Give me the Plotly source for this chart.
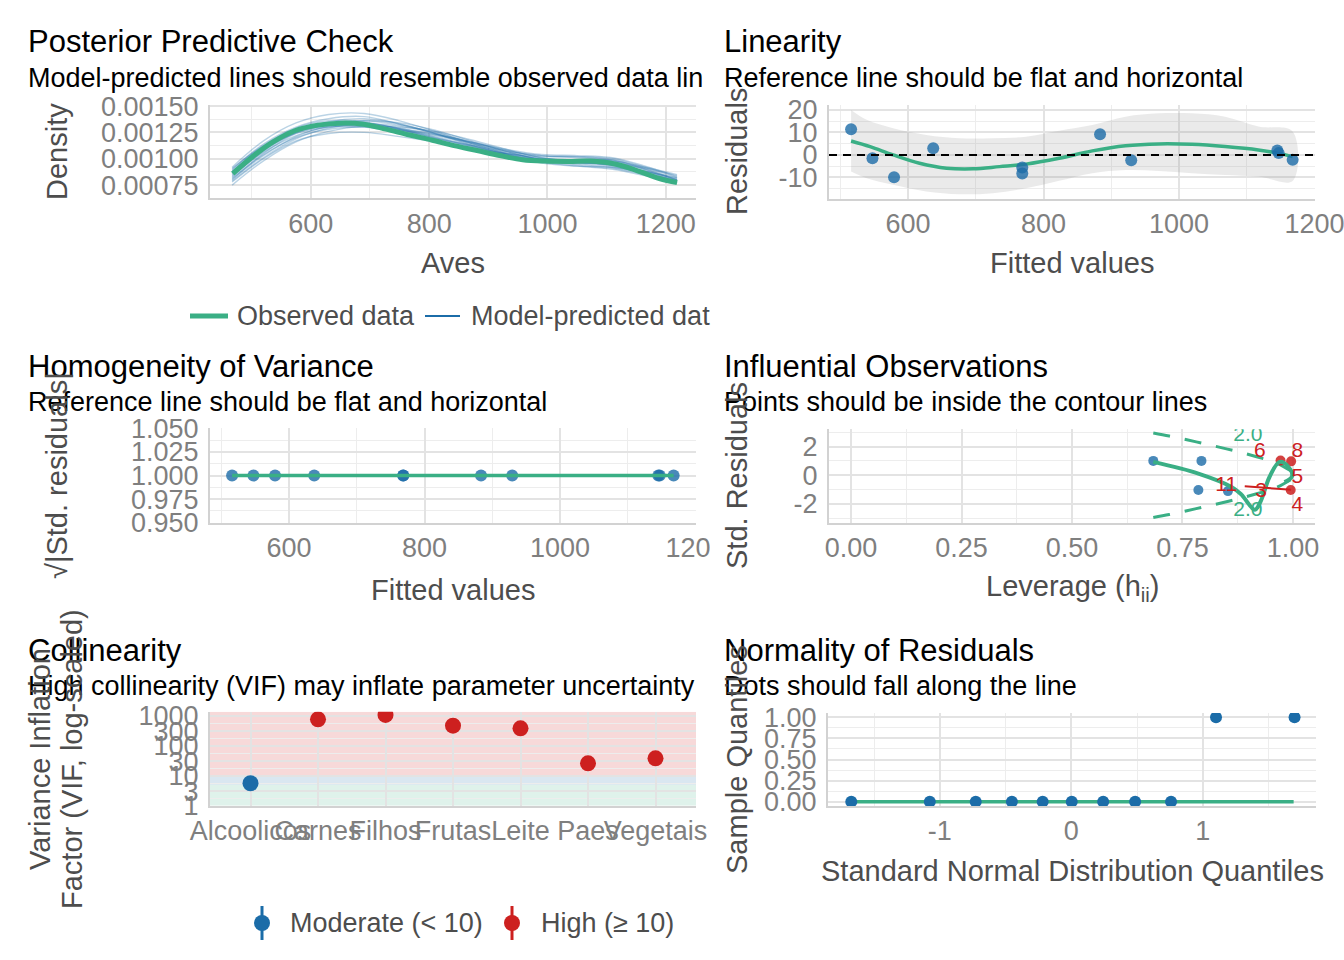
import plotly.graph_objects as go

W, H = 1344, 960
def fx(p): return p / W
def fy(p): return 1 - p / H

GREEN = "#3aaf85"; BLUE = "#1b6ca8"; RED = "#cd201f"
FONT = "Liberation Sans"
TICKCOL = "#7f7f7f"; AXTITLE = "#4d4d4d"
GRIDMAJ = "#e3e3e3"; GRIDMIN = "#ededed"; AXLINE = "#d2d2d2"

# ---------------- data ----------------
# Posterior predictive check (Aves)
ppc_obs_x = [468, 504, 535, 573, 612, 650, 689, 727, 765, 804, 842, 881, 919, 958, 996, 1035, 1073, 1112, 1150, 1189, 1219]
ppc_obs_y = [0.000859, 0.001031, 0.001156, 0.001266, 0.001319, 0.001338, 0.001328, 0.001281, 0.001228, 0.001178,
             0.001125, 0.001078, 0.001031, 0.000991, 0.000978, 0.000975, 0.000978, 0.000953, 0.000891, 0.000813, 0.000775]
ppc_rep_x = [467, 520, 575, 630, 690, 750, 810, 870, 930, 990, 1050, 1110, 1165, 1219]
ppc_rep_1 = [0.00080, 0.00105, 0.00124, 0.00132, 0.00134, 0.00128, 0.00120, 0.00112, 0.00105, 0.00100, 0.00099, 0.00097, 0.00089, 0.00077]
ppc_rep_2 = [0.00090, 0.00114, 0.00130, 0.00138, 0.00140, 0.00133, 0.00124, 0.00113, 0.00104, 0.00098, 0.00096, 0.00094, 0.00088, 0.00080]
ppc_rep_3 = [0.00078, 0.00100, 0.00117, 0.00124, 0.00125, 0.00121, 0.00116, 0.00110, 0.00105, 0.00102, 0.00102, 0.00100, 0.00092, 0.00082]
ppc_rep_4 = [0.00085, 0.00108, 0.00125, 0.00133, 0.00136, 0.00132, 0.00125, 0.00116, 0.00107, 0.00099, 0.00095, 0.00092, 0.00086, 0.00079]
ppc_rep_5 = [0.00088, 0.00112, 0.00129, 0.00136, 0.00135, 0.00128, 0.00119, 0.00111, 0.00103, 0.00097, 0.00096, 0.00096, 0.00091, 0.00084]
ppc_rep_6 = [0.00082, 0.00104, 0.00120, 0.00128, 0.00130, 0.00127, 0.00122, 0.00115, 0.00108, 0.00103, 0.00101, 0.00098, 0.00090, 0.00080]
ppc_rep_7 = [0.00075, 0.00098, 0.00116, 0.00126, 0.00131, 0.00130, 0.00126, 0.00118, 0.00109, 0.00101, 0.00097, 0.00094, 0.00088, 0.00081]
ppc_rep_8 = [0.00092, 0.00117, 0.00134, 0.00142, 0.00143, 0.00136, 0.00126, 0.00115, 0.00105, 0.00097, 0.00093, 0.00090, 0.00084, 0.00077]
ppc_rep_9 = [0.00084, 0.00106, 0.00122, 0.00130, 0.00132, 0.00129, 0.00123, 0.00116, 0.00109, 0.00104, 0.00103, 0.00101, 0.00093, 0.00083]
ppc_rep_10 = [0.00087, 0.00110, 0.00126, 0.00133, 0.00134, 0.00129, 0.00121, 0.00113, 0.00105, 0.00099, 0.00097, 0.00094, 0.00087, 0.00079]
ppc_rep_11 = [0.00079, 0.00101, 0.00119, 0.00129, 0.00133, 0.00131, 0.00124, 0.00115, 0.00106, 0.00100, 0.00099, 0.00098, 0.00092, 0.00085]
ppc_rep_12 = [0.00089, 0.00113, 0.00128, 0.00134, 0.00133, 0.00127, 0.00120, 0.00112, 0.00104, 0.00099, 0.00099, 0.00099, 0.00091, 0.00080]
ppc_rep_13 = [0.00081, 0.00103, 0.00121, 0.00131, 0.00136, 0.00134, 0.00127, 0.00117, 0.00107, 0.00099, 0.00094, 0.00091, 0.00085, 0.00078]
ppc_rep_14 = [0.00086, 0.00109, 0.00124, 0.00130, 0.00130, 0.00125, 0.00119, 0.00113, 0.00107, 0.00103, 0.00102, 0.00099, 0.00090, 0.00079]
ppc_rep_15 = [0.00083, 0.00107, 0.00125, 0.00135, 0.00138, 0.00133, 0.00124, 0.00114, 0.00104, 0.00096, 0.00093, 0.00092, 0.00088, 0.00082]
ppc_rep_16 = [0.00091, 0.00112, 0.00126, 0.00131, 0.00131, 0.00128, 0.00123, 0.00116, 0.00108, 0.00101, 0.00097, 0.00093, 0.00086, 0.00078]
ppc_reps = [ppc_rep_1, ppc_rep_2, ppc_rep_3, ppc_rep_4, ppc_rep_5, ppc_rep_6, ppc_rep_7, ppc_rep_8,
            ppc_rep_9, ppc_rep_10, ppc_rep_11, ppc_rep_12, ppc_rep_13, ppc_rep_14, ppc_rep_15, ppc_rep_16]

# Linearity
fitted = [516, 547.5, 579.4, 637.2, 768.6, 768.6, 883.4, 929.4, 1145, 1147, 1167.6]
residuals = [11.4, -1.5, -9.9, 3.0, -5.6, -8.3, 9.2, -2.4, 2.0, 0.8, -2.2]
lin_smooth_x = [516, 544, 578, 617, 657, 696, 735, 774, 823, 872, 921, 970, 1019, 1068, 1117, 1147, 1167.6]
lin_smooth_y = [6.2, 3.7, 0.0, -3.7, -5.9, -6.2, -5.2, -4.1, -1.5, 1.8, 4.1, 4.9, 4.7, 3.7, 2.2, 0.7, -0.7]
lin_band_x = [516, 539, 578, 627, 676, 725, 774, 823, 872, 921, 970, 1019, 1068, 1117, 1167.6]
lin_band_hi = [20.0, 15.6, 11.9, 8.9, 7.4, 7.4, 8.1, 10.8, 13.3, 17.0, 18.5, 18.5, 17.0, 12.6, 10.4]
lin_band_lo = [-7.4, -10.4, -13.3, -16.3, -17.5, -17.0, -14.8, -11.5, -8.1, -6.7, -7.1, -8.1, -8.9, -9.6, -11.6]

# Homogeneity of variance
sqrt_abs_std_res = [1.0, 1.0, 1.0, 1.0, 1.0, 1.0, 1.0, 1.0, 1.0, 1.0, 1.0]
hom_smooth_x = [516, 1167.6]
hom_smooth_y = [1.0, 1.0]

# Influential observations
lev_ok = [0.684, 0.793, 0.786, 0.853]
res_ok = [1.0, 1.0, -1.02, -1.1]
lev_infl = [0.972, 0.996, 0.995]
res_infl = [1.02, 0.97, -1.02]
infl_labels = ["6", "8", "5", "4", "11", "3"]
infl_label_x = [0.925, 1.010, 1.010, 1.010, 0.849, 0.928]
infl_label_y = [1.63, 1.63, -0.16, -2.09, -0.70, -1.17]
infl_smooth_x = [0.684, 0.786, 0.861, 0.883, 0.914, 0.928, 0.947, 0.970, 0.990, 0.998, 0.981]
infl_smooth_y = [0.93, 0.12, -0.81, -1.33, -2.40, -1.74, -0.12, 0.93, 0.58, -0.07, -0.47]
cook_h = [0.684, 0.72, 0.76, 0.80, 0.84, 0.88, 0.92, 0.96, 0.995]
cook_hi = [2.94, 2.73, 2.47, 2.19, 1.91, 1.61, 1.27, 0.89, 0.31]
cook_lo = [-2.94, -2.73, -2.47, -2.19, -1.91, -1.61, -1.27, -0.89, -0.31]
cook_label_x = [0.898, 0.898]
cook_label_y = [2.74, -2.49]
seg3_x = [0.891, 0.996]
seg3_y = [-0.77, -1.0]

# Collinearity
vif_terms = ["Alcoolicos", "Carnes", "Filhos", "Frutas", "Leite", "Paes", "Vegetais"]
vif_values = [5.6, 764, 1070, 468, 382, 26, 38]
vif_group = ["Moderate", "High", "High", "High", "High", "High", "High"]

# Normality of residuals
qq_theoretical = [-1.673, -1.076, -0.727, -0.452, -0.218, 0.003, 0.242, 0.485, 0.758, 1.100, 1.697]
qq_sample = [0, 0, 0, 0, 0, 0, 0, 0, 0, 1, 1]
qq_line_x = [-1.69, 1.69]
qq_line_y = [0, 0]

# ---------------- figure ----------------
fig = go.Figure()

for i, rep in enumerate(ppc_reps):
    fig.add_trace(go.Scatter(x=ppc_rep_x, y=rep, mode="lines", line=dict(color="rgba(27,108,168,0.3)", width=1.4, shape="spline"),
                             xaxis="x", yaxis="y", showlegend=False, hoverinfo="skip"))
fig.add_trace(go.Scatter(x=ppc_obs_x, y=ppc_obs_y, mode="lines", line=dict(color=GREEN, width=5, shape="spline"),
                         xaxis="x", yaxis="y", showlegend=False, name="Observed data"))

# Linearity
fig.add_trace(go.Scatter(x=lin_band_x + lin_band_x[::-1], y=lin_band_hi + lin_band_lo[::-1], fill="toself",
                         fillcolor="rgba(150,150,150,0.2)", line=dict(width=0, shape="spline"), mode="lines",
                         xaxis="x2", yaxis="y2", showlegend=False, hoverinfo="skip"))
fig.add_trace(go.Scatter(x=lin_smooth_x, y=lin_smooth_y, mode="lines", line=dict(color=GREEN, width=3.5, shape="spline"),
                         xaxis="x2", yaxis="y2", showlegend=False))
fig.add_trace(go.Scatter(x=fitted, y=residuals, mode="markers", marker=dict(color="rgba(27,108,168,0.8)", size=12),
                         xaxis="x2", yaxis="y2", showlegend=False))

# Homogeneity
fig.add_trace(go.Scatter(x=fitted, y=sqrt_abs_std_res, mode="markers", marker=dict(color="rgba(27,108,168,0.8)", size=12),
                         xaxis="x3", yaxis="y3", showlegend=False))
fig.add_trace(go.Scatter(x=hom_smooth_x, y=hom_smooth_y, mode="lines", line=dict(color=GREEN, width=3.5),
                         xaxis="x3", yaxis="y3", showlegend=False))

# Influential
fig.add_trace(go.Scatter(x=cook_h, y=cook_hi, mode="lines", line=dict(color=GREEN, width=3, dash="17px,15px", shape="spline"),
                         xaxis="x4", yaxis="y4", showlegend=False))
fig.add_trace(go.Scatter(x=cook_h, y=cook_lo, mode="lines", line=dict(color=GREEN, width=3, dash="17px,15px", shape="spline"),
                         xaxis="x4", yaxis="y4", showlegend=False))
fig.add_trace(go.Scatter(x=lev_ok, y=res_ok, mode="markers", marker=dict(color="rgba(27,108,168,0.8)", size=10),
                         xaxis="x4", yaxis="y4", showlegend=False))
fig.add_trace(go.Scatter(x=lev_infl, y=res_infl, mode="markers", marker=dict(color="rgba(205,32,31,0.85)", size=10),
                         xaxis="x4", yaxis="y4", showlegend=False))
fig.add_trace(go.Scatter(x=infl_smooth_x, y=infl_smooth_y, mode="lines", line=dict(color=GREEN, width=4, shape="spline"),
                         xaxis="x4", yaxis="y4", showlegend=False))
fig.add_trace(go.Scatter(x=seg3_x, y=seg3_y, mode="lines", line=dict(color=RED, width=2),
                         xaxis="x4", yaxis="y4", showlegend=False))
fig.add_trace(go.Scatter(x=infl_label_x, y=infl_label_y, mode="text", text=infl_labels,
                         textfont=dict(color=RED, size=21, family=FONT), xaxis="x4", yaxis="y4", showlegend=False))
fig.add_trace(go.Scatter(x=cook_label_x, y=cook_label_y, mode="text", text=["2.0", "2.0"],
                         textfont=dict(color=GREEN, size=21, family=FONT), xaxis="x4", yaxis="y4", showlegend=False))

# Collinearity
vif_colors = [BLUE if g == "Moderate" else RED for g in vif_group]
fig.add_trace(go.Scatter(x=vif_terms, y=vif_values, mode="markers", marker=dict(color=vif_colors, size=16),
                         xaxis="x5", yaxis="y5", showlegend=False))

# Normality
fig.add_trace(go.Scatter(x=qq_line_x, y=qq_line_y, mode="lines", line=dict(color=GREEN, width=3.5),
                         xaxis="x6", yaxis="y6", showlegend=False))
fig.add_trace(go.Scatter(x=qq_theoretical, y=qq_sample, mode="markers", marker=dict(color=BLUE, size=12),
                         xaxis="x6", yaxis="y6", showlegend=False))

# ---------------- axes ----------------
def axis(dom, rng, tickvals=None, ticktext=None, minor_vals=None, anchor=None, standoff=4, **kw):
    d = dict(domain=dom, range=rng, showgrid=True, gridcolor=GRIDMAJ, gridwidth=1.6, zeroline=False,
             showline=True, linecolor=AXLINE, linewidth=2, ticks="", ticklabelstandoff=standoff, automargin=False,
             ticklabeloverflow="allow",
             tickfont=dict(size=27, color=TICKCOL, family=FONT), anchor=anchor, tickangle=0)
    if tickvals is not None:
        d["tickvals"] = tickvals
    if ticktext is not None:
        d["ticktext"] = ticktext
    if minor_vals is not None:
        d["minor"] = dict(tickvals=minor_vals, showgrid=True, gridcolor=GRIDMIN, gridwidth=1, ticks="")
    d.update(kw)
    return d

L1 = [fx(210), fx(696)]
L2 = [fx(829), fx(1315)]
XS = 0  # standoff of x tick labels
FIT_RANGE = [483.4, 1200.6]
lay = dict(
    xaxis=axis(L1, [429.6, 1251], [600, 800, 1000, 1200], minor_vals=[500, 700, 900, 1100], anchor="y", standoff=XS),
    yaxis=axis([fy(198.3), fy(105)], [0.000625, 0.00151], [0.00075, 0.001, 0.00125, 0.0015],
               ["0.00075", "0.00100", "0.00125", "0.00150"], minor_vals=[0.000875, 0.001125, 0.001375], anchor="x"),
    xaxis2=axis(L2, FIT_RANGE, [600, 800, 1000, 1200], minor_vals=[500, 700, 900, 1100], anchor="y2", standoff=XS),
    yaxis2=axis([fy(199), fy(105)], [-19.6, 22.2], [-10, 0, 10, 20], ["-10", "0", "10", "20"],
                minor_vals=[-15, -5, 5, 15], anchor="x2"),
    xaxis3=axis(L1, FIT_RANGE, [600, 800, 1000, 1200], minor_vals=[500, 700, 900, 1100], anchor="y3", standoff=XS),
    yaxis3=axis([fy(522.7), fy(428.3)], [0.95, 1.05], [0.95, 0.975, 1.0, 1.025, 1.05],
                ["0.950", "0.975", "1.000", "1.025", "1.050"], minor_vals=[0.9625, 0.9875, 1.0125, 1.0375], anchor="x3"),
    xaxis4=axis(L2, [-0.05, 1.05], [0, 0.25, 0.5, 0.75, 1.0], ["0.00", "0.25", "0.50", "0.75", "1.00"],
                minor_vals=[0.125, 0.375, 0.625, 0.875], anchor="y4", standoff=XS),
    yaxis4=axis([fy(522.7), fy(429.3)], [-3.3, 3.2], [-2, 0, 2], ["-2", "0", "2"], minor_vals=[-3, -1, 1, 3], anchor="x4"),
    xaxis5=axis(L1, [-0.6, 6.6], anchor="y5", type="category", categoryorder="array", categoryarray=vif_terms,
                tickvals=vif_terms, standoff=XS),
    yaxis5=axis([fy(805.7), fy(711.7)], [0, 3.137], [1, 3, 10, 30, 100, 300, 1000], ["1", "3", "10", "30", "100", "300", "1000"],
                minor_vals=[1.73, 5.48, 17.3, 54.8, 173, 548], anchor="x5", type="log"),
    xaxis6=axis([fx(828), fx(1316)], [-1.85, 1.86], [-1, 0, 1], ["-1", "0", "1"], minor_vals=[-1.5, -0.5, 0.5, 1.5],
                anchor="y6", standoff=XS),
    yaxis6=axis([fy(806), fy(713)], [-0.05, 1.05], [0, 0.25, 0.5, 0.75, 1.0], ["0.00", "0.25", "0.50", "0.75", "1.00"],
                minor_vals=[0.125, 0.375, 0.625, 0.875], anchor="x6"),
)

shapes = []
# collinearity background bands
shapes.append(dict(type="rect", xref="x5 domain", yref="y5", x0=0, x1=1, y0=1, y1=5, fillcolor="rgba(58,175,133,0.16)",
                   line=dict(width=0), layer="below"))
shapes.append(dict(type="rect", xref="x5 domain", yref="y5", x0=0, x1=1, y0=5, y1=10, fillcolor="rgba(27,108,168,0.16)",
                   line=dict(width=0), layer="below"))
shapes.append(dict(type="rect", xref="x5 domain", yref="y5", x0=0, x1=1, y0=10, y1=1372, fillcolor="rgba(205,32,31,0.17)",
                   line=dict(width=0), layer="below"))
# reference lines
shapes.append(dict(type="line", xref="x2 domain", yref="y2", x0=0, x1=1, y0=0, y1=0,
                   line=dict(color="black", width=2, dash="8px,6px"), layer="above"))
shapes.append(dict(type="line", xref="x4 domain", yref="y4", x0=0, x1=1, y0=0, y1=0,
                   line=dict(color="#a6a6a6", width=1.6, dash="8px,6px"), layer="below"))
shapes.append(dict(type="line", xref="x4", yref="y4 domain", x0=0, x1=0, y0=0, y1=1,
                   line=dict(color="#a6a6a6", width=1.6, dash="8px,6px"), layer="below"))
# clip of the homogeneity panel at its right edge
shapes.append(dict(type="rect", xref="paper", yref="paper", x0=fx(710), x1=fx(728), y0=fy(565), y1=fy(532),
                   fillcolor="white", line=dict(width=0), layer="above"))
# legend glyphs
shapes.append(dict(type="line", xref="paper", yref="paper", x0=fx(190), x1=fx(228), y0=fy(316), y1=fy(316),
                   line=dict(color=GREEN, width=5), layer="above"))
shapes.append(dict(type="line", xref="paper", yref="paper", x0=fx(425), x1=fx(460), y0=fy(316), y1=fy(316),
                   line=dict(color=BLUE, width=2), layer="above"))
for cx, col in [(262, BLUE), (512, RED)]:
    shapes.append(dict(type="line", xref="paper", yref="paper", x0=fx(cx), x1=fx(cx), y0=fy(940), y1=fy(906),
                       line=dict(color=col, width=3), layer="above"))
    shapes.append(dict(type="circle", xref="paper", yref="paper", x0=fx(cx - 8), x1=fx(cx + 8), y0=fy(931), y1=fy(915),
                       fillcolor=col, line=dict(width=0), layer="above"))

anns = []
def ann(text, x, y, size, color="black", xanchor="left", angle=0):
    if xanchor == "left":
        x -= 2
    anns.append(dict(text=text, x=fx(x), y=fy(y), xref="paper", yref="paper", showarrow=False, xanchor=xanchor,
                     yanchor="middle", textangle=angle, font=dict(size=size, color=color, family=FONT)))

# titles
ann("Posterior Predictive Check", 28, 42, 31)
ann("Model-predicted lines should resemble observed data lin", 28, 78, 27)
ann("Linearity", 724, 42, 31)
ann("Reference line should be flat and horizontal", 724, 78, 27)
ann("Homogeneity of Variance", 28, 366, 31)
ann("Reference line should be flat and horizontal", 28, 402, 27)
ann("Influential Observations", 724, 366, 31)
ann("Points should be inside the contour lines", 724, 402, 27)
ann("Collinearity", 28, 650, 31)
ann("High collinearity (VIF) may inflate parameter uncertainty", 28, 686, 27)
ann("Normality of Residuals", 724, 650, 31)
ann("Dots should fall along the line", 724, 686, 27)
# axis titles
ann("Aves", 453, 263, 29, AXTITLE, "center")
ann("Fitted values", 1072, 263, 29, AXTITLE, "center")
ann("Fitted values", 453, 590, 29, AXTITLE, "center")
ann("Leverage (h<sub>ii</sub>)", 1072, 588, 29, AXTITLE, "center")
ann("Standard Normal Distribution Quantiles", 1072, 871, 29, AXTITLE, "center")
ann("Density", 57, 152, 29, AXTITLE, "center", -90)
ann("Residuals", 737, 152, 29, AXTITLE, "center", -90)
ann("√|Std. residuals|", 57, 476, 29, AXTITLE, "center", -90)
ann("Std. Residuals", 737, 476, 29, AXTITLE, "center", -90)
ann("Variance Inflation", 40, 759, 29, AXTITLE, "center", -90)
ann("Factor (VIF, log-scaled)", 72, 759, 29, AXTITLE, "center", -90)
ann("Sample Quantiles", 737, 760, 29, AXTITLE, "center", -90)
# legends
ann("Observed data", 237, 316, 27, AXTITLE)
ann("Model-predicted dat", 471, 316, 27, AXTITLE)
ann("Moderate (< 10)", 290, 923, 27, AXTITLE)
ann("High (≥ 10)", 541, 923, 27, AXTITLE)

fig.update_layout(width=W, height=H, autosize=False, margin=dict(l=0, r=0, t=0, b=0, pad=0, autoexpand=False),
                  paper_bgcolor="white", plot_bgcolor="white", showlegend=False, shapes=shapes, annotations=anns,
                  font=dict(family=FONT), **lay)

fig.write_html("out.html", config={"responsive": False, "displayModeBar": False},
               post_script="document.body.style.margin='0px';")
